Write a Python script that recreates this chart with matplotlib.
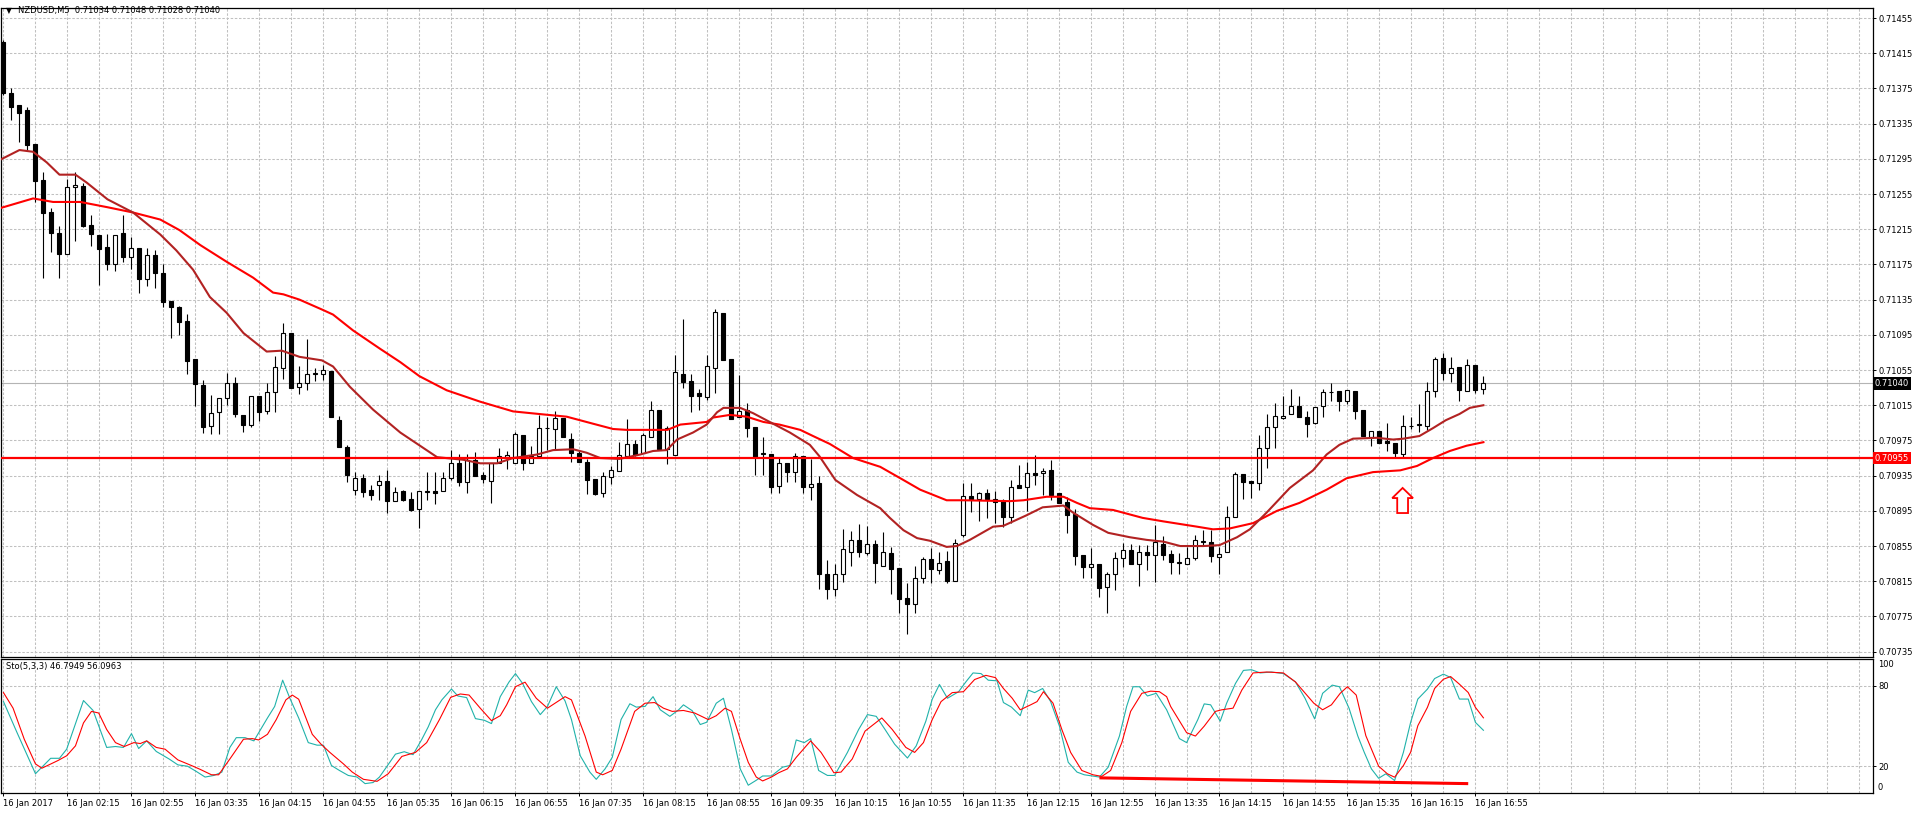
"""NZDUSD M5 candlestick chart with two moving averages and a stochastic panel.

Values were read off an MT4 screenshot; bar 0 is 16 Jan 01:35, one bar per 5 minutes.
"""

import matplotlib

matplotlib.use("Agg")
from matplotlib import pyplot as plt  # noqa: E402
from matplotlib.patches import FancyArrow  # noqa: E402
from matplotlib.transforms import blended_transform_factory  # noqa: E402
import numpy as np  # noqa: E402

W, H, DPI = 1916, 815, 100

OPEN = [
    0.71428, 0.71370, 0.71356, 0.71350, 0.71312, 0.71271, 0.71235, 0.71211, 0.71187, 0.71263,
    0.71264, 0.71220, 0.71209, 0.71195, 0.71176, 0.71211, 0.71184, 0.71194, 0.71159, 0.71186,
    0.71165, 0.71134, 0.71127, 0.71111, 0.71068, 0.71038, 0.70991, 0.71007, 0.71023, 0.71040,
    0.71004, 0.70993, 0.71026, 0.71009, 0.71030, 0.71057, 0.71097, 0.71036, 0.71040, 0.71051,
    0.71051, 0.71054, 0.70998, 0.70968, 0.70919, 0.70932, 0.70919, 0.70924, 0.70929, 0.70906,
    0.70918, 0.70909, 0.70897, 0.70916, 0.70918, 0.70918, 0.70932, 0.70949, 0.70928, 0.70953,
    0.70936, 0.70929, 0.70949, 0.70956, 0.70949, 0.70981, 0.70949, 0.70957, 0.70989, 0.70988,
    0.71001, 0.70977, 0.70961, 0.70951, 0.70931, 0.70915, 0.70934, 0.70940, 0.70957, 0.70971,
    0.70961, 0.70979, 0.71010, 0.70965, 0.70959, 0.71051, 0.71043, 0.71029, 0.71024, 0.71057,
    0.71120, 0.71068, 0.71002, 0.71010, 0.70990, 0.70960, 0.70960, 0.70923, 0.70949, 0.70939,
    0.70957, 0.70922, 0.70927, 0.70823, 0.70806, 0.70823, 0.70848, 0.70862, 0.70847, 0.70857,
    0.70832, 0.70847, 0.70830, 0.70796, 0.70789, 0.70819, 0.70840, 0.70828, 0.70838, 0.70815,
    0.70868, 0.70912, 0.70909, 0.70915, 0.70909, 0.70906, 0.70888, 0.70924, 0.70922, 0.70938,
    0.70938, 0.70941, 0.70915, 0.70905, 0.70891, 0.70845, 0.70831, 0.70835, 0.70808, 0.70823,
    0.70841, 0.70851, 0.70835, 0.70848, 0.70845, 0.70857, 0.70846, 0.70836, 0.70835, 0.70841,
    0.70860, 0.70860, 0.70843, 0.70848, 0.70888, 0.70937, 0.70929, 0.70927, 0.70966, 0.70990,
    0.71001, 0.71005, 0.71014, 0.71002, 0.70995, 0.71014, 0.71030, 0.71031, 0.71020, 0.71031,
    0.71010, 0.70979, 0.70986, 0.70974, 0.70972, 0.70960, 0.70991, 0.70993, 0.70991, 0.71031,
    0.71069, 0.71052, 0.71059, 0.71031, 0.71061, 0.71034,
]
HIGH = [
    0.71430, 0.71376, 0.71356, 0.71354, 0.71312, 0.71280, 0.71239, 0.71219, 0.71272, 0.71280,
    0.71268, 0.71231, 0.71209, 0.71210, 0.71209, 0.71231, 0.71206, 0.71194, 0.71194, 0.71191,
    0.71176, 0.71134, 0.71128, 0.71119, 0.71068, 0.71044, 0.71027, 0.71023, 0.71052, 0.71047,
    0.71004, 0.71026, 0.71026, 0.71040, 0.71071, 0.71109, 0.71097, 0.71060, 0.71090, 0.71057,
    0.71061, 0.71054, 0.71003, 0.70970, 0.70939, 0.70937, 0.70924, 0.70936, 0.70941, 0.70922,
    0.70919, 0.70916, 0.70918, 0.70939, 0.70939, 0.70939, 0.70964, 0.70960, 0.70960, 0.70962,
    0.70939, 0.70949, 0.70966, 0.70963, 0.70985, 0.70981, 0.70969, 0.71004, 0.71002, 0.71009,
    0.71001, 0.70984, 0.70964, 0.70954, 0.70931, 0.70939, 0.70946, 0.70973, 0.70999, 0.70976,
    0.70984, 0.71020, 0.71010, 0.70991, 0.71072, 0.71113, 0.71051, 0.71034, 0.71072, 0.71124,
    0.71120, 0.71068, 0.71049, 0.71018, 0.70990, 0.70979, 0.70960, 0.70955, 0.70949, 0.70961,
    0.70957, 0.70954, 0.70935, 0.70839, 0.70835, 0.70874, 0.70872, 0.70880, 0.70878, 0.70862,
    0.70871, 0.70854, 0.70830, 0.70813, 0.70832, 0.70843, 0.70853, 0.70848, 0.70849, 0.70863,
    0.70927, 0.70927, 0.70916, 0.70920, 0.70918, 0.70909, 0.70930, 0.70947, 0.70951, 0.70959,
    0.70944, 0.70953, 0.70915, 0.70911, 0.70897, 0.70845, 0.70853, 0.70835, 0.70826, 0.70848,
    0.70859, 0.70857, 0.70856, 0.70856, 0.70879, 0.70866, 0.70851, 0.70847, 0.70854, 0.70868,
    0.70873, 0.70873, 0.70854, 0.70901, 0.70939, 0.70937, 0.70929, 0.70981, 0.71005, 0.71018,
    0.71026, 0.71034, 0.71026, 0.71009, 0.71013, 0.71034, 0.71040, 0.71031, 0.71032, 0.71031,
    0.71010, 0.70986, 0.70986, 0.70995, 0.70972, 0.71004, 0.71002, 0.71016, 0.71041, 0.71070,
    0.71074, 0.71070, 0.71059, 0.71068, 0.71061, 0.71048,
]
LOW = [
    0.71367, 0.71339, 0.71314, 0.71305, 0.71246, 0.71160, 0.71189, 0.71160, 0.71187, 0.71202,
    0.71218, 0.71196, 0.71152, 0.71169, 0.71168, 0.71178, 0.71170, 0.71143, 0.71151, 0.71148,
    0.71127, 0.71091, 0.71095, 0.71051, 0.71014, 0.70984, 0.70982, 0.70982, 0.71015, 0.71002,
    0.70985, 0.70990, 0.70997, 0.71005, 0.71007, 0.71045, 0.71035, 0.71028, 0.71032, 0.71043,
    0.71044, 0.71002, 0.70968, 0.70928, 0.70913, 0.70911, 0.70907, 0.70907, 0.70893, 0.70906,
    0.70906, 0.70895, 0.70876, 0.70907, 0.70903, 0.70918, 0.70930, 0.70923, 0.70915, 0.70935,
    0.70927, 0.70904, 0.70949, 0.70943, 0.70949, 0.70941, 0.70949, 0.70957, 0.70964, 0.70965,
    0.70979, 0.70951, 0.70951, 0.70914, 0.70913, 0.70911, 0.70926, 0.70940, 0.70957, 0.70957,
    0.70961, 0.70979, 0.70965, 0.70948, 0.70959, 0.71035, 0.71007, 0.71010, 0.71021, 0.71029,
    0.71066, 0.70999, 0.71002, 0.70979, 0.70936, 0.70936, 0.70915, 0.70915, 0.70928, 0.70928,
    0.70915, 0.70907, 0.70806, 0.70795, 0.70798, 0.70814, 0.70832, 0.70843, 0.70845, 0.70813,
    0.70832, 0.70801, 0.70779, 0.70755, 0.70779, 0.70813, 0.70813, 0.70823, 0.70813, 0.70815,
    0.70865, 0.70894, 0.70884, 0.70887, 0.70881, 0.70877, 0.70881, 0.70921, 0.70895, 0.70924,
    0.70913, 0.70907, 0.70904, 0.70870, 0.70834, 0.70819, 0.70819, 0.70797, 0.70779, 0.70805,
    0.70831, 0.70835, 0.70810, 0.70828, 0.70814, 0.70839, 0.70823, 0.70823, 0.70835, 0.70839,
    0.70855, 0.70837, 0.70823, 0.70848, 0.70888, 0.70909, 0.70910, 0.70919, 0.70944, 0.70966,
    0.70999, 0.71005, 0.71002, 0.70979, 0.70994, 0.71002, 0.71020, 0.71009, 0.71016, 0.70999,
    0.70980, 0.70969, 0.70972, 0.70963, 0.70956, 0.70956, 0.70988, 0.70985, 0.70987, 0.71024,
    0.71044, 0.71041, 0.71020, 0.71031, 0.71029, 0.71028,
]
CLOSE = [
    0.71370, 0.71354, 0.71347, 0.71311, 0.71270, 0.71234, 0.71211, 0.71187, 0.71263, 0.71265,
    0.71219, 0.71210, 0.71193, 0.71176, 0.71209, 0.71184, 0.71194, 0.71159, 0.71186, 0.71165,
    0.71132, 0.71127, 0.71110, 0.71065, 0.71039, 0.70990, 0.71006, 0.71023, 0.71040, 0.71005,
    0.70993, 0.71026, 0.71007, 0.71030, 0.71059, 0.71097, 0.71035, 0.71040, 0.71051, 0.71051,
    0.71055, 0.71002, 0.70968, 0.70936, 0.70932, 0.70916, 0.70913, 0.70929, 0.70906, 0.70916,
    0.70907, 0.70896, 0.70918, 0.70918, 0.70915, 0.70932, 0.70949, 0.70928, 0.70953, 0.70935,
    0.70931, 0.70949, 0.70957, 0.70959, 0.70982, 0.70949, 0.70957, 0.70989, 0.70989, 0.71001,
    0.70979, 0.70961, 0.70951, 0.70930, 0.70914, 0.70935, 0.70941, 0.70959, 0.70971, 0.70959,
    0.70981, 0.71010, 0.70965, 0.70989, 0.71053, 0.71041, 0.71026, 0.71026, 0.71060, 0.71121,
    0.71066, 0.70999, 0.71009, 0.70989, 0.70956, 0.70960, 0.70922, 0.70949, 0.70939, 0.70957,
    0.70922, 0.70926, 0.70823, 0.70806, 0.70823, 0.70852, 0.70862, 0.70848, 0.70857, 0.70836,
    0.70848, 0.70829, 0.70795, 0.70789, 0.70819, 0.70840, 0.70829, 0.70836, 0.70815, 0.70859,
    0.70912, 0.70909, 0.70915, 0.70909, 0.70905, 0.70888, 0.70922, 0.70921, 0.70938, 0.70936,
    0.70940, 0.70913, 0.70904, 0.70890, 0.70844, 0.70831, 0.70835, 0.70807, 0.70823, 0.70841,
    0.70851, 0.70835, 0.70848, 0.70845, 0.70860, 0.70845, 0.70837, 0.70836, 0.70841, 0.70862,
    0.70861, 0.70844, 0.70846, 0.70888, 0.70937, 0.70928, 0.70927, 0.70966, 0.70990, 0.71003,
    0.71003, 0.71014, 0.71002, 0.70994, 0.71013, 0.71030, 0.71030, 0.71020, 0.71032, 0.71009,
    0.70980, 0.70986, 0.70972, 0.70972, 0.70961, 0.70991, 0.70991, 0.70993, 0.71031, 0.71068,
    0.71052, 0.71057, 0.71032, 0.71061, 0.71032, 0.71040,
]

# fast MA (dark red), sampled at bar positions
MA_FAST_BAR = [
    -0.4, 2, 3.7, 5.4, 7, 9, 10.4, 13, 16.2, 19.6, 21.6, 23.7, 25.8, 27.9, 30, 32.9, 34.8, 37,
    39.8, 41.2, 43.3, 46.2, 49.6, 54.2, 57.5, 59.6, 61.7, 63.7, 66.7, 68.7, 71.2, 72.9, 74.6,
    77, 79.6, 81.2, 82.9, 84.2, 86.2, 87.9, 89.2, 90, 92.1, 93.7, 96.2, 98.3, 100.8, 102, 104,
    106.7, 109.6, 110.8, 112.5, 114.2, 115.8, 117.9, 119.2, 120.8, 123.7, 125, 127.9, 129.9,
    132.5, 133.7, 136.2, 138.1, 140.8, 142.9, 145, 147.1, 150, 152, 154.2, 155.8, 157.9, 160.8,
    163.7, 165.4, 167, 168.7, 171.7, 173.7, 175, 177, 178.7, 180.3, 182, 183.3, 185,
]
MA_FAST = [
    0.71294, 0.71305, 0.71303, 0.71291, 0.71277, 0.71277, 0.71268, 0.71249, 0.71234, 0.71209,
    0.71191, 0.71169, 0.71138, 0.71120, 0.71097, 0.71076, 0.71077, 0.71070, 0.71066, 0.71059,
    0.71036, 0.71010, 0.70984, 0.70956, 0.70953, 0.70949, 0.70949, 0.70955, 0.70959, 0.70964,
    0.70965, 0.70961, 0.70955, 0.70954, 0.70959, 0.70963, 0.70964, 0.70976, 0.70984, 0.70993,
    0.71007, 0.71012, 0.71012, 0.71006, 0.70994, 0.70984, 0.70970, 0.70957, 0.70930, 0.70913,
    0.70898, 0.70887, 0.70873, 0.70864, 0.70861, 0.70854, 0.70855, 0.70862, 0.70877, 0.70878,
    0.70890, 0.70899, 0.70901, 0.70893, 0.70879, 0.70870, 0.70865, 0.70862, 0.70860, 0.70855,
    0.70855, 0.70856, 0.70865, 0.70874, 0.70893, 0.70921, 0.70941, 0.70959, 0.70970, 0.70977,
    0.70978, 0.70976, 0.70977, 0.70980, 0.70989, 0.70998, 0.71005, 0.71012, 0.71015,
]

# slow MA (red)
MA_SLOW_BAR = [
    -0.4, 3.7, 6.2, 9.6, 13, 16.2, 19.6, 22, 24.6, 27.9, 31.2, 33.7, 35, 37, 40, 41.2, 43.7,
    47.1, 49.6, 52, 55.4, 59.6, 63.7, 67, 70.4, 73.7, 76.2, 77.9, 83, 84.6, 87.9, 88.7, 90.8,
    92.9, 95, 97, 99.6, 101.2, 103.3, 106.2, 109.6, 112.5, 114.6, 117.9, 120, 125.8, 127.5,
    130.4, 132.5, 134.2, 135.8, 138.7, 142.4, 145, 147.1, 149.2, 151.2, 153.3, 156.2, 159.2,
    162, 165.4, 167.9, 171.2, 174.6, 176.7, 178.7, 180.8, 182.9, 185,
]
MA_SLOW = [
    0.71239, 0.71250, 0.71246, 0.71246, 0.71240, 0.71234, 0.71226, 0.71214, 0.71197, 0.71178,
    0.71160, 0.71143, 0.71141, 0.71135, 0.71123, 0.71118, 0.71100, 0.71079, 0.71064, 0.71048,
    0.71032, 0.71019, 0.71008, 0.71005, 0.71002, 0.70994, 0.70988, 0.70987, 0.70987, 0.70993,
    0.70996, 0.71001, 0.71004, 0.71002, 0.70996, 0.70993, 0.70987, 0.70980, 0.70971, 0.70955,
    0.70945, 0.70930, 0.70919, 0.70907, 0.70907, 0.70906, 0.70907, 0.70911, 0.70911, 0.70904,
    0.70898, 0.70896, 0.70887, 0.70883, 0.70880, 0.70877, 0.70874, 0.70875, 0.70881, 0.70895,
    0.70904, 0.70919, 0.70932, 0.70939, 0.70941, 0.70946, 0.70955, 0.70963, 0.70969, 0.70973,
]

# Stochastic(5,3,3): main line and signal line
STO_K_BAR = [
    0, 1.7, 4.0, 5.9, 7.0, 7.9, 10.0, 11.2, 12.9, 14.0, 15.0, 16.0, 16.9, 17.9, 19.1, 20.7,
    21.8, 23.0, 24.1, 25.2, 26.3, 27.3, 28.3, 29.1, 30.2, 31.3, 33.0, 33.9, 34.9, 35.8, 36.9,
    38.1, 39.2, 40.0, 41.0, 42.0, 43.1, 44.2, 45.2, 46.2, 47.0, 48.0, 49.0, 50.1, 51.2, 52.3,
    53.1, 54.0, 54.8, 56.0, 56.8, 57.9, 59.0, 60.1, 61.0, 62.1, 63.2, 64.0, 64.9, 66.0, 67.1,
    68.0, 69.1, 70.2, 71.0, 72.1, 73.3, 74.1, 75.2, 76.1, 77.2, 78.3, 79.1, 80.2, 81.2, 82.1,
    83.3, 84.4, 85.0, 86.1, 87.1, 87.9, 89.1, 90.0, 91.0, 92.1, 93.1, 94.1, 94.9, 96.0, 97.4,
    98.3, 99.1, 100.1, 100.9, 101.9, 103.0, 103.9, 105.5, 106.9, 108.0, 109.1, 110.2, 111.4,
    113.0, 114.1, 115.3, 116.1, 117.0, 118.0, 119.4, 120.3, 121.2, 122.2, 123.1, 124.2, 125.0,
    126.0, 127.1, 128.1, 128.9, 129.9, 130.9, 132.0, 133.1, 134.2, 135.1, 137.0, 138.1, 139.5,
    140.4, 141.2, 142.0, 143.0, 144.1, 145.4, 147.0, 147.9, 149.3, 150.1, 150.9, 152.1, 152.9,
    154.0, 155.0, 156.0, 157.1, 158.5, 160.0, 161.5, 162.7, 163.9, 164.9, 166.1, 167.0, 168.2,
    169.3, 170.1, 171.0, 171.9, 172.8, 173.9, 175.0, 175.9, 176.8, 178.0, 178.9, 180.0, 180.9,
    182.0, 183.1, 184.0, 185.0,
]
STO_K = [
    68.2, 45.0, 14.4, 25.9, 25.9, 32.7, 69.0, 61.6, 34.0, 34.7, 34.0, 44.3, 33.2, 38.9, 31.0,
    25.4, 21.0, 20.0, 16.1, 11.9, 13.1, 15.6, 34.0, 41.3, 41.3, 38.9, 56.0, 64.6, 84.2, 70.7,
    56.0, 37.6, 35.7, 35.7, 20.5, 16.8, 13.1, 11.9, 7.0, 7.8, 11.9, 20.5, 29.0, 30.8, 28.6,
    40.1, 49.4, 62.1, 69.5, 77.6, 72.4, 71.2, 55.5, 54.3, 51.8, 71.9, 82.9, 89.1, 81.7, 68.2,
    58.5, 64.6, 79.3, 68.7, 54.8, 27.8, 15.6, 10.2, 18.0, 26.6, 54.8, 66.6, 64.1, 64.6, 71.9,
    62.1, 57.2, 62.1, 65.8, 61.4, 51.1, 52.8, 67.0, 70.7, 47.4, 18.0, 5.8, 9.5, 12.7, 12.7,
    19.3, 20.5, 39.6, 37.6, 40.6, 16.8, 13.1, 13.1, 30.3, 47.4, 58.5, 57.2, 47.4, 36.4, 26.1,
    35.2, 53.6, 70.0, 81.0, 70.7, 75.6, 82.9, 89.6, 89.1, 84.2, 83.7, 67.5, 64.1, 57.7, 76.8,
    74.9, 78.0, 68.2, 49.9, 22.9, 15.6, 13.6, 11.9, 19.3, 42.5, 64.6, 79.3, 79.3, 72.4, 74.4,
    62.1, 40.6, 37.6, 54.8, 66.5, 65.8, 53.6, 67.0, 81.7, 91.5, 92.0, 89.6, 90.3, 89.1, 82.9,
    70.7, 55.3, 74.4, 80.5, 79.3, 63.3, 42.5, 30.4, 18.0, 11.0, 14.3, 9.3, 30.4, 52.7, 70.1,
    77.5, 85.4, 88.7, 86.2, 70.1, 70.1, 52.7, 46.8,
]
STO_D_BAR = [
    0, 1.2, 2.6, 4.0, 4.8, 6.8, 7.9, 9.0, 10.0, 11.0, 11.9, 12.9, 14.0, 15.1, 16.3, 17.1, 17.9,
    19.1, 20.2, 21.8, 23.5, 24.6, 26.0, 26.9, 28.3, 30.0, 31.1, 31.9, 33.0, 34.1, 35.3, 36.1,
    36.9, 38.6, 39.7, 40.8, 42.5, 43.6, 45.0, 46.7, 48.1, 49.8, 51.5, 52.9, 54.5, 55.9, 57.1,
    58.2, 59.6, 61.0, 62.1, 62.9, 64.0, 65.2, 66.6, 68.0, 70.2, 71.0, 72.7, 74.1, 74.9, 76.1,
    77.2, 78.9, 80.2, 81.4, 82.5, 83.6, 85.0, 86.4, 88.1, 89.1, 90.2, 91.0, 92.1, 93.1, 94.1,
    94.9, 96.0, 96.9, 98.0, 99.1, 100.9, 102.2, 103.0, 103.8, 104.7, 106.1, 107.7, 109.8,
    111.1, 112.8, 113.9, 115.0, 116.1, 117.2, 118.6, 120.0, 121.4, 122.8, 124.0, 125.0, 126.1,
    127.1, 128.4, 129.2, 130.0, 131.2, 132.3, 133.4, 134.8, 136.2, 137.3, 138.4, 139.8, 140.9,
    142.3, 143.4, 144.5, 145.4, 145.9, 147.9, 149.0, 150.1, 151.5, 152.3, 153.7, 154.8, 156.2,
    157.9, 160.0, 161.5, 163.8, 164.9, 166.0, 167.1, 168.0, 169.1, 170.3, 171.9, 173.0, 173.9,
    175.0, 175.9, 176.8, 178.0, 178.9, 180.0, 180.9, 182.0, 183.1, 184.0, 185.0,
]
STO_D = [
    74.9, 63.3, 40.1, 21.7, 18.5, 24.2, 27.8, 35.2, 52.3, 60.9, 59.7, 47.4, 37.6, 34.7, 37.6,
    36.9, 38.9, 34.0, 32.7, 24.7, 20.5, 17.6, 13.6, 13.6, 25.4, 40.1, 40.6, 39.6, 43.8, 54.8,
    69.5, 73.1, 70.0, 43.8, 36.4, 30.3, 21.7, 15.6, 10.2, 8.7, 14.4, 27.3, 30.3, 37.6, 54.8,
    71.4, 73.9, 73.1, 63.3, 54.0, 57.7, 65.8, 79.3, 82.7, 70.7, 63.3, 71.9, 69.5, 42.5, 15.6,
    13.6, 16.8, 32.7, 60.9, 67.0, 67.5, 63.3, 60.9, 61.6, 59.7, 54.8, 57.7, 63.3, 60.9, 40.1,
    22.9, 11.9, 9.0, 11.9, 15.1, 18.0, 26.6, 38.9, 30.3, 22.9, 15.1, 15.6, 25.4, 46.2, 56.0,
    47.4, 34.0, 30.3, 37.6, 54.8, 68.2, 74.9, 75.6, 84.7, 87.8, 86.1, 78.0, 70.7, 62.1, 65.8,
    68.2, 75.6, 67.0, 47.4, 30.3, 16.8, 13.6, 12.4, 16.8, 37.6, 60.9, 74.4, 76.0, 75.6, 71.9,
    64.6, 45.0, 42.5, 49.9, 60.9, 62.1, 63.3, 76.8, 89.6, 90.3, 89.6, 82.9, 67.0, 62.1, 65.8,
    74.4, 79.3, 73.1, 42.8, 20.0, 14.3, 11.8, 20.5, 30.4, 50.2, 63.9, 78.0, 84.9, 86.9, 81.2,
    75.0, 63.9, 56.1,
]

# divergence line drawn on the stochastic panel
STO_TREND_BAR = [137.0, 183.1]
STO_TREND = [11.3, 7.0]

TIME_LABELS = [
    "16 Jan 2017", "16 Jan 02:15", "16 Jan 02:55", "16 Jan 03:35", "16 Jan 04:15",
    "16 Jan 04:55", "16 Jan 05:35", "16 Jan 06:15", "16 Jan 06:55", "16 Jan 07:35",
    "16 Jan 08:15", "16 Jan 08:55", "16 Jan 09:35", "16 Jan 10:15", "16 Jan 10:55",
    "16 Jan 11:35", "16 Jan 12:15", "16 Jan 12:55", "16 Jan 13:35", "16 Jan 14:15",
    "16 Jan 14:55", "16 Jan 15:35", "16 Jan 16:15", "16 Jan 16:55",
]
LABEL_EVERY = 8
GRID_EVERY = 4

LEVEL_PRICE = 0.70955
LAST_PRICE = 0.71040
ARROW_BAR = 174.9
ARROW_BASE, ARROW_TIP = 0.708925, 0.709210

HEADER = "NZDUSD,M5  0.71034 0.71048 0.71028 0.71040"
STO_HEADER = "Sto(5,3,3) 46.7949 56.0963"

GRID_COLOR = "#c0c0c0"
GRID_DASH = (0, (2.4, 1.6))
FAST_COLOR = "#b22222"
SLOW_COLOR = "#ff0000"
K_COLOR = "#20b2aa"
FS = 6.0


def main() -> None:
    plt.rcParams["font.family"] = ["DejaVu Sans"]
    fig = plt.figure(figsize=(W / DPI, H / DPI), dpi=DPI, facecolor="white")

    # pixel layout of the two panels
    ax = fig.add_axes([1 / W, (H - 657) / H, 1872 / W, 649 / H])
    ax_s = fig.add_axes([1 / W, (H - 793) / H, 1872 / W, 134 / H])

    xlim = (-0.31, 233.7)
    n = len(CLOSE)
    bars = np.arange(n)
    opens, highs, lows, closes = map(np.asarray, (OPEN, HIGH, LOW, CLOSE))

    for a in (ax, ax_s):
        a.set_xlim(*xlim)
        for spine in a.spines.values():
            spine.set_color("black")
            spine.set_linewidth(0.9)
        for g in np.arange(0, xlim[1], GRID_EVERY):
            a.axvline(g, color=GRID_COLOR, lw=0.75, ls=GRID_DASH, zorder=0)

    # ---- price panel ----
    ax.set_ylim(0.707289, 0.714664)
    price_ticks = np.arange(0.70735, 0.714551, 0.0004)
    for p in price_ticks:
        ax.axhline(p, color=GRID_COLOR, lw=0.75, ls=GRID_DASH, zorder=0)
    ax.yaxis.tick_right()
    ax.set_yticks(price_ticks)
    ax.set_yticklabels([f"{p:.5f}" for p in price_ticks], fontsize=FS)
    ax.tick_params(axis="y", direction="out", length=2.2, width=0.7, pad=1.5)
    ax.set_xticks([])

    ax.axhline(LAST_PRICE, color="#b4b4b4", lw=0.8, zorder=1)

    ax.vlines(bars, lows, highs, color="black", lw=0.8, zorder=2)
    up = closes >= opens
    body_lo = np.minimum(opens, closes)
    body_h = np.maximum(np.abs(closes - opens), 0.000004)
    ax.bar(bars[up], body_h[up], bottom=body_lo[up], width=0.5, color="white",
           edgecolor="black", linewidth=0.8, zorder=3)
    ax.bar(bars[~up], body_h[~up], bottom=body_lo[~up], width=0.5, color="black",
           edgecolor="black", linewidth=0.8, zorder=3)

    ax.plot(MA_SLOW_BAR, MA_SLOW, color=SLOW_COLOR, lw=1.5, zorder=4)
    ax.plot(MA_FAST_BAR, MA_FAST, color=FAST_COLOR, lw=1.5, zorder=4)
    ax.axhline(LEVEL_PRICE, color="#ff0000", lw=1.6, zorder=5)

    ax.add_patch(FancyArrow(ARROW_BAR, ARROW_BASE, 0, ARROW_TIP - ARROW_BASE, width=1.35,
                            head_width=2.6, head_length=0.000115, length_includes_head=True,
                            fc="white", ec="#ff0000", lw=1.3, zorder=6))

    tr = blended_transform_factory(ax.transAxes, ax.transData)
    ax.text(1.0008, LAST_PRICE, f"{LAST_PRICE:.5f}", transform=tr, fontsize=FS, color="white",
            va="center", ha="left", clip_on=False,
            bbox=dict(boxstyle="square,pad=0.22", fc="black", ec="none"))
    ax.text(1.0008, LEVEL_PRICE, f"{LEVEL_PRICE:.5f}", transform=tr, fontsize=FS, color="white",
            va="center", ha="left", clip_on=False,
            bbox=dict(boxstyle="square,pad=0.22", fc="#ff0000", ec="none"))

    # ---- stochastic panel (fixed 0..100 window) ----
    ax_s.set_ylim(0, 100)
    for lvl in (20, 80):
        ax_s.axhline(lvl, color=GRID_COLOR, lw=0.75, ls=GRID_DASH, zorder=0)
    ax_s.yaxis.tick_right()
    ax_s.set_yticks([20, 80])
    ax_s.set_yticklabels(["20", "80"], fontsize=FS)
    ax_s.tick_params(axis="y", direction="out", length=2.2, width=0.7, pad=1.5)
    tr_s = blended_transform_factory(ax_s.transAxes, ax_s.transData)
    # the 100 and 0 labels sit just inside the window edges
    ax_s.annotate("100", xy=(1, 100), xycoords=tr_s, xytext=(3.6, -4.3),
                  textcoords="offset points", fontsize=FS, va="center", ha="left",
                  annotation_clip=False)
    ax_s.annotate("0", xy=(1, 0), xycoords=tr_s, xytext=(3.6, 4.3),
                  textcoords="offset points", fontsize=FS, va="center", ha="left",
                  annotation_clip=False)

    label_pos = np.arange(len(TIME_LABELS)) * LABEL_EVERY
    ax_s.set_xticks(label_pos)
    ax_s.set_xticklabels(TIME_LABELS, fontsize=FS, ha="left")
    ax_s.tick_params(axis="x", direction="out", length=2.2, width=0.7, pad=2)

    ax_s.plot(STO_K_BAR, STO_K, color=K_COLOR, lw=0.8, zorder=3)
    ax_s.plot(STO_D_BAR, STO_D, color="#ff0000", lw=0.8, zorder=4)
    ax_s.plot(STO_TREND_BAR, STO_TREND, color="#ff0000", lw=2.2, zorder=5,
              solid_capstyle="butt")

    # panel captions
    fig.text(6 / W, 1 - 11 / H, "\u25bc", fontsize=5.5, va="center", ha="left")
    fig.text(18 / W, 1 - 11 / H, HEADER, fontsize=FS, va="center", ha="left")
    fig.text(6 / W, 1 - 667 / H, STO_HEADER, fontsize=FS, va="center", ha="left")

    fig.savefig("out.png", dpi=DPI, facecolor="white")
    plt.close(fig)


if __name__ == "__main__":
    main()
